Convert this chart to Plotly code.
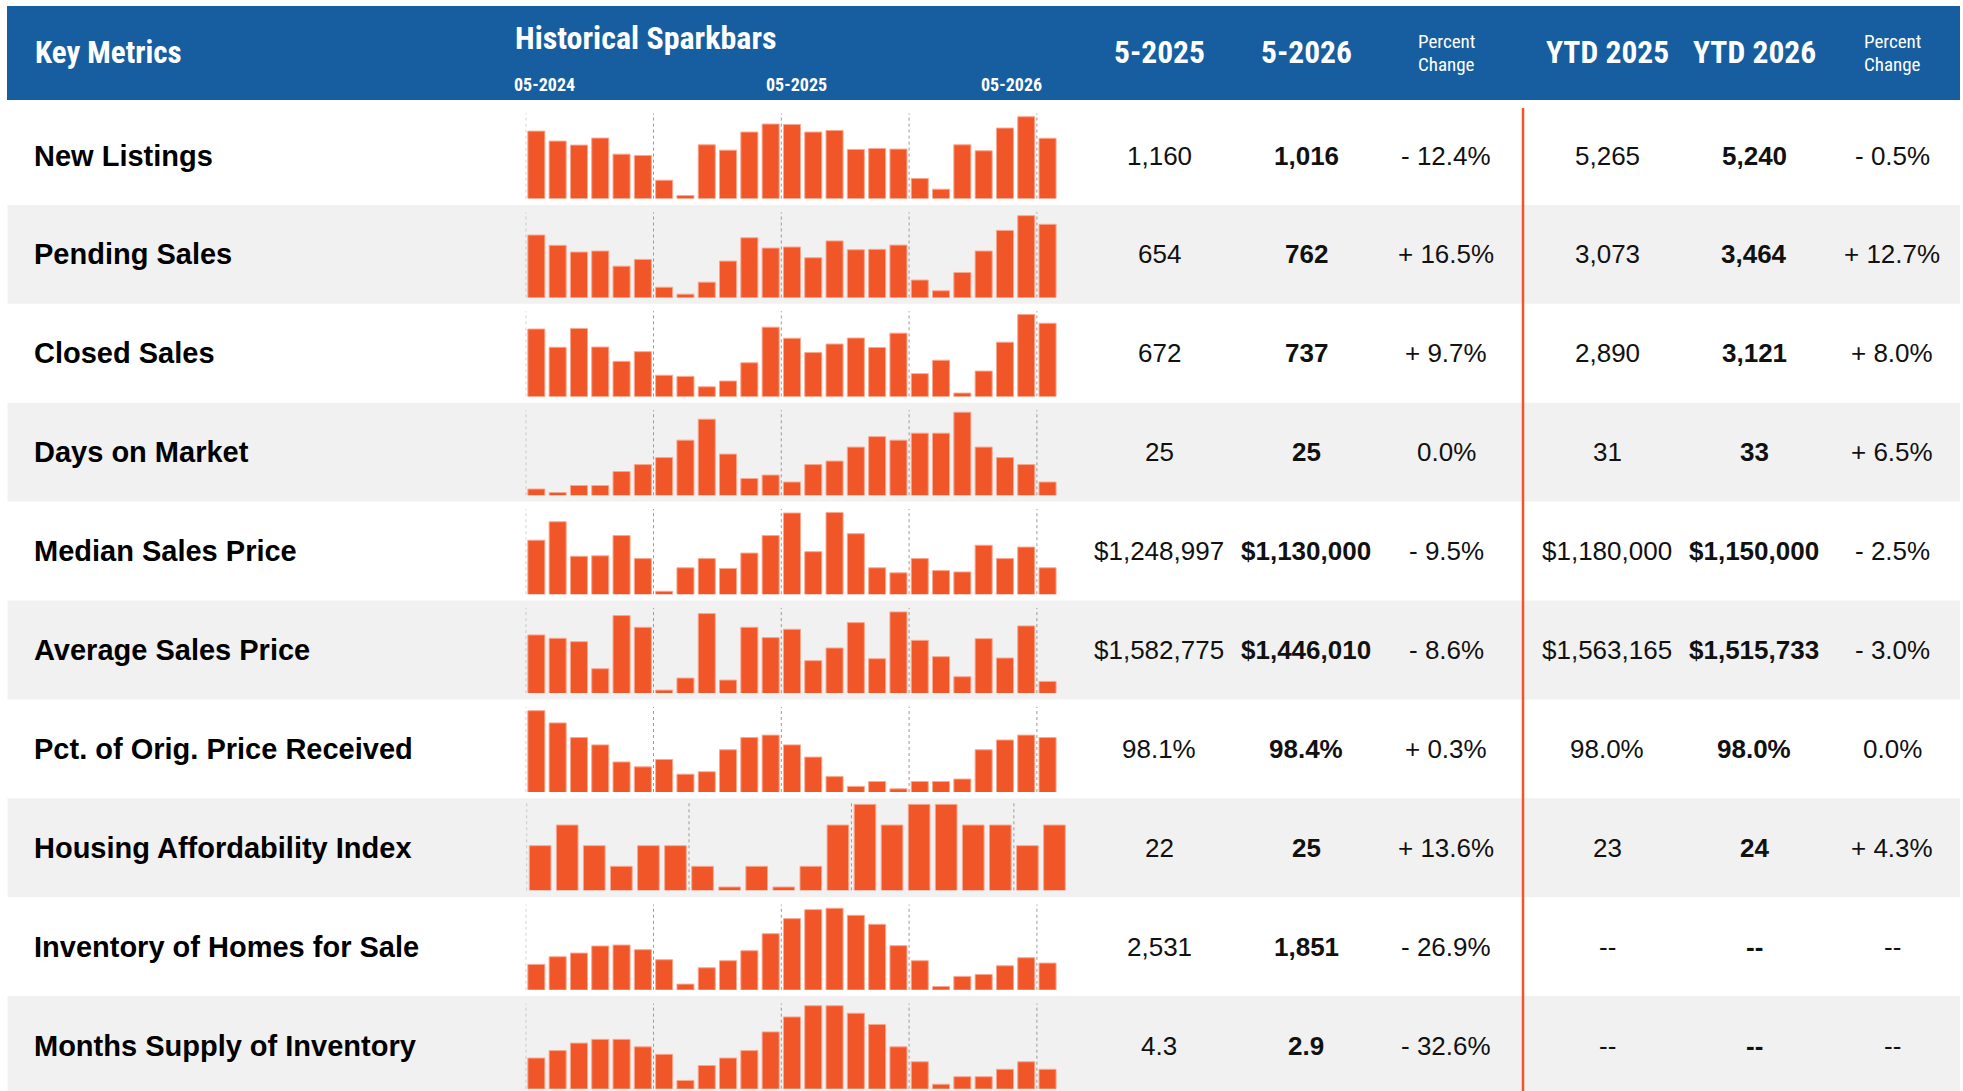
import plotly.graph_objects as go

W, H = 1963, 1091

# ---------------- data ----------------
months = ["05-2024", "06-2024", "07-2024", "08-2024", "09-2024", "10-2024", "11-2024",
          "12-2024", "01-2025", "02-2025", "03-2025", "04-2025", "05-2025", "06-2025",
          "07-2025", "08-2025", "09-2025", "10-2025", "11-2025", "12-2025", "01-2026",
          "02-2026", "03-2026", "04-2026", "05-2026"]

metrics = ["New Listings", "Pending Sales", "Closed Sales", "Days on Market",
           "Median Sales Price", "Average Sales Price", "Pct. of Orig. Price Received",
           "Housing Affordability Index", "Inventory of Homes for Sale",
           "Months Supply of Inventory"]

new_listings = [1091, 986, 944, 1018, 849, 835, 575, 414, 947, 891, 1081, 1165, 1160,
                1081, 1098, 898, 909, 902, 593, 481, 947, 884, 1123, 1242, 1016]
pending_sales = [711, 662, 630, 635, 563, 595, 463, 430, 487, 587, 698, 649, 654,
                 603, 683, 641, 643, 663, 497, 446, 533, 635, 733, 803, 762]
closed_sales = [712, 633, 714, 634, 572, 614, 512, 507, 462, 487, 566, 720, 672,
                610, 647, 673, 632, 694, 519, 577, 435, 530, 655, 775, 737]
days_on_market = [23, 22, 24, 24, 28, 30, 32, 37, 43, 33, 26, 27, 25,
                  30, 31, 35, 38, 37, 39, 39, 45, 35, 32, 30, 25]
median_price = [1190000, 1230000, 1155000, 1156000, 1200000, 1150000, 1079000, 1130000,
                1150000, 1128500, 1162000, 1200000, 1248997, 1165000, 1250000, 1204000,
                1130000, 1119000, 1150000, 1124000, 1121000, 1179000, 1150000, 1175000,
                1130000]
average_price = [1567900, 1559100, 1550300, 1479300, 1618700, 1588000, 1423200, 1454800,
                 1624000, 1449500, 1588000, 1560900, 1582775, 1500400, 1533700, 1600300,
                 1505600, 1628400, 1553800, 1510900, 1458300, 1558200, 1507400, 1591600,
                 1446010]
pct_orig_price = [99.5, 99.0, 98.4, 98.1, 97.4, 97.2, 97.5, 96.9, 97.0, 97.9, 98.4, 98.5,
                  98.1, 97.6, 96.8, 96.4, 96.6, 96.3, 96.6, 96.6, 96.7, 97.9, 98.3, 98.5,
                  98.4]
affordability = [20, 21, 20, 19, 20, 20, 19, 18, 19, 18, 19, 21, 22, 21, 22, 22, 21, 21,
                 20, 21]
inventory = [1831, 1948, 2004, 2112, 2127, 2056, 1902, 1529, 1779, 1887, 2040, 2301, 2531,
             2669, 2690, 2582, 2444, 2117, 1887, 1493, 1647, 1677, 1810, 1933, 1851]
months_supply = [3.2, 3.4, 3.6, 3.7, 3.7, 3.5, 3.3, 2.6, 3.0, 3.2, 3.4, 3.9, 4.3, 4.6, 4.6,
                 4.4, 4.1, 3.5, 3.1, 2.5, 2.7, 2.7, 2.9, 3.1, 2.9]

col_month_2025 = ["1,160", "654", "672", "25", "$1,248,997", "$1,582,775", "98.1%", "22",
                  "2,531", "4.3"]
col_month_2026 = ["1,016", "762", "737", "25", "$1,130,000", "$1,446,010", "98.4%", "25",
                  "1,851", "2.9"]
col_month_pct = ["- 12.4%", "+ 16.5%", "+ 9.7%", "0.0%", "- 9.5%", "- 8.6%", "+ 0.3%",
                 "+ 13.6%", "- 26.9%", "- 32.6%"]
col_ytd_2025 = ["5,265", "3,073", "2,890", "31", "$1,180,000", "$1,563,165", "98.0%", "23",
                "--", "--"]
col_ytd_2026 = ["5,240", "3,464", "3,121", "33", "$1,150,000", "$1,515,733", "98.0%", "24",
                "--", "--"]
col_ytd_pct = ["- 0.5%", "+ 12.7%", "+ 8.0%", "+ 6.5%", "- 2.5%", "- 3.0%", "0.0%",
               "+ 4.3%", "--", "--"]

header_cols = ["5-2025", "5-2026", "Percent<br>Change", "YTD 2025", "YTD 2026",
               "Percent<br>Change"]
spark_labels = ["05-2024", "05-2025", "05-2026"]

sparks = [new_listings, pending_sales, closed_sales, days_on_market, median_price,
          average_price, pct_orig_price, affordability, inventory, months_supply]

# ---------------- styling ----------------
BLUE = "#165E9F"
ORANGE = "#F05627"
GREY_ROW = "#F1F1F1"
TXT = "#111111"
NARROW = "Liberation Sans Narrow, Roboto Condensed, DejaVu Sans Condensed, Arial Narrow, sans-serif"
SANS = "Liberation Sans, Arial, Helvetica, sans-serif"

y_ranges = [[382, 1277], [414, 819], [420.5, 789], [21.2, 45.6],
            [1072680, 1257700], [1415330, 1638890], [96.17, 99.66],
            [17.84, 22.1], [1442, 2746], [2.38, 4.66]]

ROW0, ROWH = 106.0, 98.9
col_x = [1159, 1306, 1446, 1607, 1754, 1892]


def fx(X):
    return X / W


def fy(Y):
    return 1 - Y / H


fig = go.Figure()
shapes, annos = [], []
layout_axes = {}

# header band
shapes.append(dict(type="rect", xref="paper", yref="paper", x0=fx(7), x1=fx(1960),
                   y0=fy(100), y1=fy(6), fillcolor=BLUE, line_width=0, layer="below"))

for k in range(10):
    top = ROW0 + ROWH * k
    if k % 2 == 1:
        shapes.append(dict(type="rect", xref="paper", yref="paper", x0=fx(7.5), x1=fx(1960),
                           y0=max(fy(top + ROWH), 0), y1=fy(top), fillcolor=GREY_ROW,
                           line_width=0, layer="below"))

for k, vals in enumerate(sparks):
    sfx = "" if k == 0 else str(k + 1)
    top = ROW0 + ROWH * k
    nb = len(vals)
    cats = months[:nb]
    if nb == 25:
        xd = [fx(525.7), fx(1058.2)]
        yd = [fy(top + 92.6), fy(top + 7.4)]
    else:
        xd = [fx(526.6), fx(1068.0)]
        yd = [fy(top + 92.0), fy(top + 4.0)]
    fig.add_trace(go.Bar(x=cats, y=vals, xaxis=f"x{sfx}", yaxis=f"y{sfx}",
                         marker=dict(color=ORANGE, line=dict(color="#F8A890", width=1)),
                         showlegend=False, hoverinfo="skip"))
    layout_axes[f"xaxis{sfx}"] = dict(domain=xd, range=[-0.5, nb - 0.5], visible=False,
                                      anchor=f"y{sfx}", fixedrange=True, type="category")
    layout_axes[f"yaxis{sfx}"] = dict(domain=yd, range=y_ranges[k], visible=False,
                                      anchor=f"x{sfx}", fixedrange=True)
    for i in range(0, nb, 6):
        shapes.append(dict(type="line", xref=f"x{sfx}", yref=f"y{sfx} domain", x0=i - 0.5,
                           x1=i - 0.5, y0=0, y1=1,
                           line=dict(color="#9A9A9A", width=1, dash="dot"), layer="below"))

    cy = fy(top + 49.5)
    annos.append(dict(text=f"<b>{metrics[k]}</b>", x=fx(32), y=cy, xref="paper",
                      yref="paper", xanchor="left", yanchor="middle", showarrow=False,
                      font=dict(family=SANS, size=29, color="#000000")))
    cols = [col_month_2025[k], col_month_2026[k], col_month_pct[k], col_ytd_2025[k],
            col_ytd_2026[k], col_ytd_pct[k]]
    for j, t in enumerate(cols):
        txt = f"<b>{t}</b>" if j in (1, 4) else t
        annos.append(dict(text=txt, x=fx(col_x[j]), y=cy, xref="paper", yref="paper",
                          xanchor="center", yanchor="middle", showarrow=False,
                          font=dict(family=SANS, size=26, color=TXT)))

# red divider
shapes.append(dict(type="line", xref="paper", yref="paper", x0=fx(1523), x1=fx(1523),
                   y0=0, y1=fy(108), line=dict(color=ORANGE, width=2.5)))

# header texts
annos.append(dict(text="<b>Key Metrics</b>", x=fx(33), y=fy(53), xref="paper", yref="paper",
                  xanchor="left", yanchor="middle", showarrow=False,
                  font=dict(family=NARROW, size=31, color="white")))
annos.append(dict(text="<b>Historical Sparkbars</b>", x=fx(513), y=fy(38), xref="paper",
                  yref="paper", xanchor="left", yanchor="middle", showarrow=False,
                  font=dict(family=NARROW, size=32, color="white")))
for lab, X in zip(spark_labels, [512, 764, 979]):
    annos.append(dict(text=f"<b>{lab}</b>", x=fx(X), y=fy(84), xref="paper", yref="paper",
                      xanchor="left", yanchor="middle", showarrow=False,
                      font=dict(family=NARROW, size=18, color="white")))
for j, t in enumerate(header_cols):
    if "Percent" in t:
        annos.append(dict(text="Percent", x=fx(col_x[j]), y=fy(41), xref="paper",
                          yref="paper", xanchor="center", yanchor="middle", showarrow=False,
                          font=dict(family=NARROW, size=19, color="white")))
        annos.append(dict(text="Change", x=fx(col_x[j]), y=fy(64), xref="paper",
                          yref="paper", xanchor="center", yanchor="middle", showarrow=False,
                          font=dict(family=NARROW, size=19, color="white")))
    else:
        annos.append(dict(text=f"<b>{t}</b>", x=fx(col_x[j]), y=fy(53), xref="paper",
                          yref="paper", xanchor="center", yanchor="middle", showarrow=False,
                          font=dict(family=NARROW, size=31.5, color="white")))

fig.update_layout(width=W, height=H, margin=dict(l=0, r=0, t=0, b=0),
                  paper_bgcolor="white", plot_bgcolor="rgba(0,0,0,0)",
                  bargap=0.2, shapes=shapes, annotations=annos, showlegend=False,
                  **layout_axes)

fig.write_html("out.html", config={"displayModeBar": False},
               post_script="document.body.style.margin='0';document.body.style.overflow='hidden';")
